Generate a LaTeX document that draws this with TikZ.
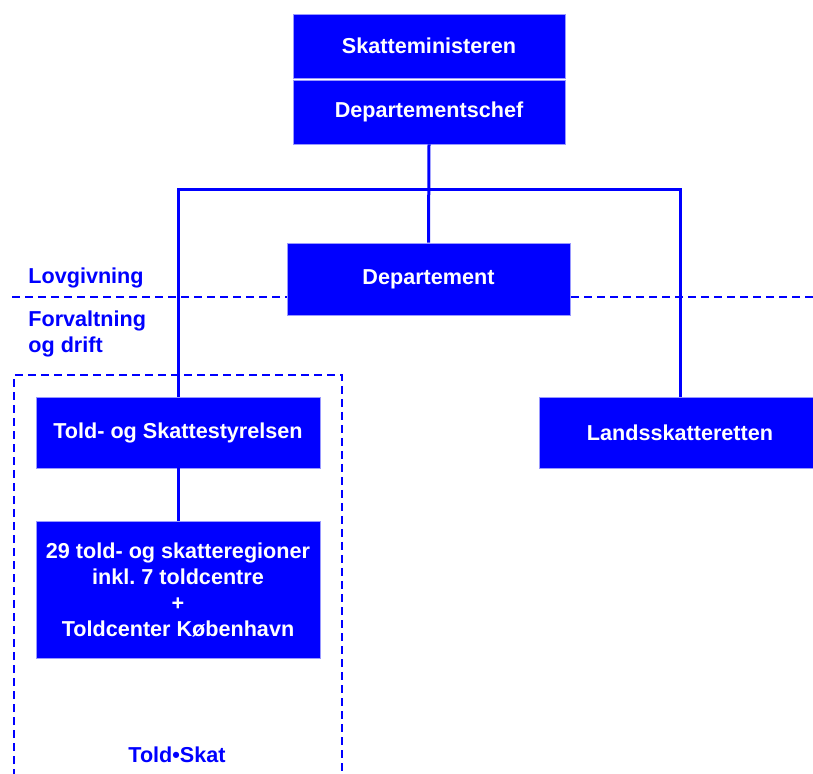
\documentclass[tikz,border=0pt]{standalone}
\usepackage{fontspec}
\setmainfont{Liberation Sans}
\usetikzlibrary{calc}
\definecolor{skatblue}{RGB}{0,0,255}
\frenchspacing
\tikzset{
	unit/.style={rectangle, fill=skatblue, draw=skatblue!40, line width=0.4pt, inner sep=0pt, text=white, font=\fontsize{10.8}{13}\selectfont\bfseries, align=center},
	link/.style={draw=skatblue, line width=1.5pt},
	divider/.style={draw=skatblue, line width=1pt, dash pattern=on 4pt off 2.5pt},
	zonelabel/.style={text=skatblue, font=\fontsize{10.8}{13}\selectfont\bfseries, inner sep=0pt}
}

\begin{document}
\begin{tikzpicture}[x=0.5pt, y=-0.5pt]
				\useasboundingbox (0,0) rectangle (813,774);
				
				% skillelinje
				\draw[divider] (12,297) -- (813,297);
				\node[zonelabel, anchor=base west] (lov) at (28,284) {Lovgivning};
				\node[zonelabel, anchor=base west, align=left] (forv) at (28,353) {Forvaltning\\og drift};
				
				% Told-Skat ramme
				\draw[divider] (14,790) -- (14,375) -- (342,375) -- (342,790);
				\node[zonelabel, anchor=base] (toldskat) at (177,762) {Told•Skat};
				
				\node[unit, minimum width=136pt, minimum height=32pt] (minister) at (429,46) {Skatteministeren};
				\node[unit, minimum width=136pt, minimum height=32pt] (chef) at (429,112) {Departementschef};
				\node[unit, minimum width=141.5pt, minimum height=36pt] (dept) at (428.5,279) {Departement};
				\node[unit, minimum width=142pt, minimum height=35.5pt] (told) at (178,432.5) {Told- og Skattestyrelsen};
				\node[unit, minimum width=142pt, minimum height=68.5pt] (regioner) at (178,589.5) {29 told- og skatteregioner\\inkl. 7 toldcentre\\+\\Toldcenter København};
				\node[unit, minimum width=141pt, minimum height=35.5pt] (lands) at (680,432.5) {Landsskatteretten};
				
				\coordinate (split) at (chef.south |- 0,190);
				\draw[link] (chef.south) -- (dept.north);
				\draw[link] (told.north) |- (split) -| (lands.north);
				\draw[link] (told.south) -- (regioner.north);
			\end{tikzpicture}
\end{document}
